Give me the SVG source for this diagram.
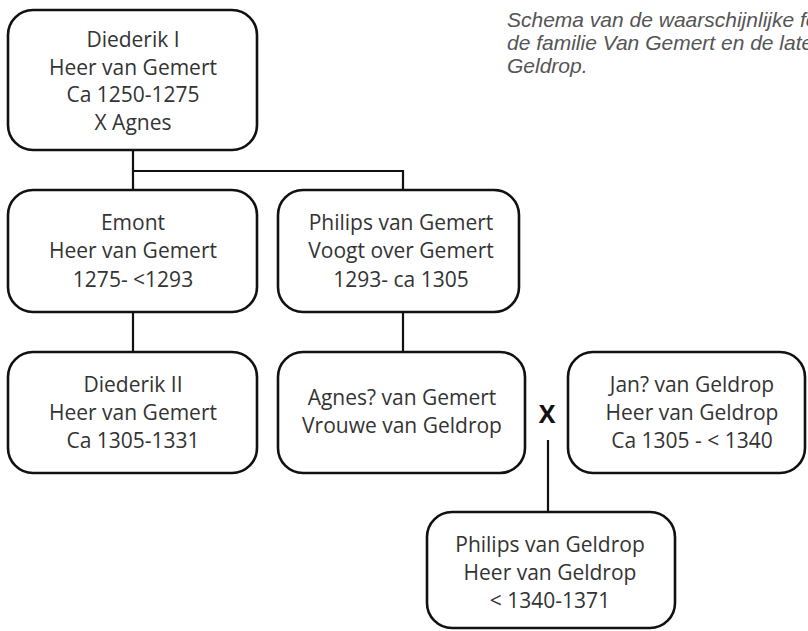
<svg xmlns="http://www.w3.org/2000/svg" width="808" height="631" viewBox="0 0 808 631">
<style>
.box{fill:#fff;stroke:#111;stroke-width:2.6}
.t{font-family:"Open Sans","Liberation Sans",sans-serif;font-size:21px;fill:#333;text-anchor:middle}
.x{font-family:"Open Sans","Liberation Sans",sans-serif;font-size:25px;font-weight:bold;fill:#111;text-anchor:middle}
.cap{font-family:"Liberation Sans",sans-serif;font-style:italic;font-size:21px;fill:#555}
.c{fill:none;stroke:#111;stroke-width:2.2}
</style>
<rect width="808" height="631" fill="#fff"/>
<g id="caption">
<text class="cap" x="507" y="27">Schema van de waarschijnlijke fo</text>
<text class="cap" x="507" y="50">de familie Van Gemert en de late</text>
<text class="cap" x="507" y="73">Geldrop.</text>
</g>
<g id="connectors">
<path class="c" d="M133 150 V190 M133 171 H403 V190"/>
<path class="c" d="M133 312 V352"/>
<path class="c" d="M403 312 V352"/>
<path class="c" d="M548 440 V512"/>
</g>
<g id="diederik1">
<rect class="box" x="8" y="10" width="249" height="140" rx="25"/>
<text class="t" x="133" y="47">Diederik I</text>
<text class="t" x="133" y="75">Heer van Gemert</text>
<text class="t" x="133" y="102">Ca 1250-1275</text>
<text class="t" x="133" y="130">X Agnes</text>
</g>
<g id="emont">
<rect class="box" x="8" y="190" width="249" height="122" rx="25"/>
<text class="t" x="133" y="230">Emont</text>
<text class="t" x="133" y="258">Heer van Gemert</text>
<text class="t" x="133" y="287">1275- &lt;1293</text>
</g>
<g id="philips-gemert">
<rect class="box" x="278" y="190" width="241" height="122" rx="25"/>
<text class="t" x="401" y="230">Philips van Gemert</text>
<text class="t" x="401" y="258">Voogt over Gemert</text>
<text class="t" x="401" y="287">1293- ca 1305</text>
</g>
<g id="diederik2">
<rect class="box" x="8" y="352" width="249" height="121" rx="25"/>
<text class="t" x="133" y="392">Diederik II</text>
<text class="t" x="133" y="420">Heer van Gemert</text>
<text class="t" x="133" y="448">Ca 1305-1331</text>
</g>
<g id="agnes">
<rect class="box" x="278" y="352" width="247" height="121" rx="25"/>
<text class="t" x="402" y="405">Agnes? van Gemert</text>
<text class="t" x="402" y="433">Vrouwe van Geldrop</text>
</g>
<g id="marriage">
<text class="x" x="547" y="423">X</text>
</g>
<g id="jan">
<rect class="box" x="568" y="352" width="237" height="121" rx="25"/>
<text class="t" x="692" y="392">Jan? van Geldrop</text>
<text class="t" x="692" y="420">Heer van Geldrop</text>
<text class="t" x="692" y="448">Ca 1305 - &lt; 1340</text>
</g>
<g id="philips-geldrop">
<rect class="box" x="427" y="512" width="248" height="116" rx="25"/>
<text class="t" x="550" y="552">Philips van Geldrop</text>
<text class="t" x="550" y="580">Heer van Geldrop</text>
<text class="t" x="550" y="608">&lt; 1340-1371</text>
</g>
</svg>
